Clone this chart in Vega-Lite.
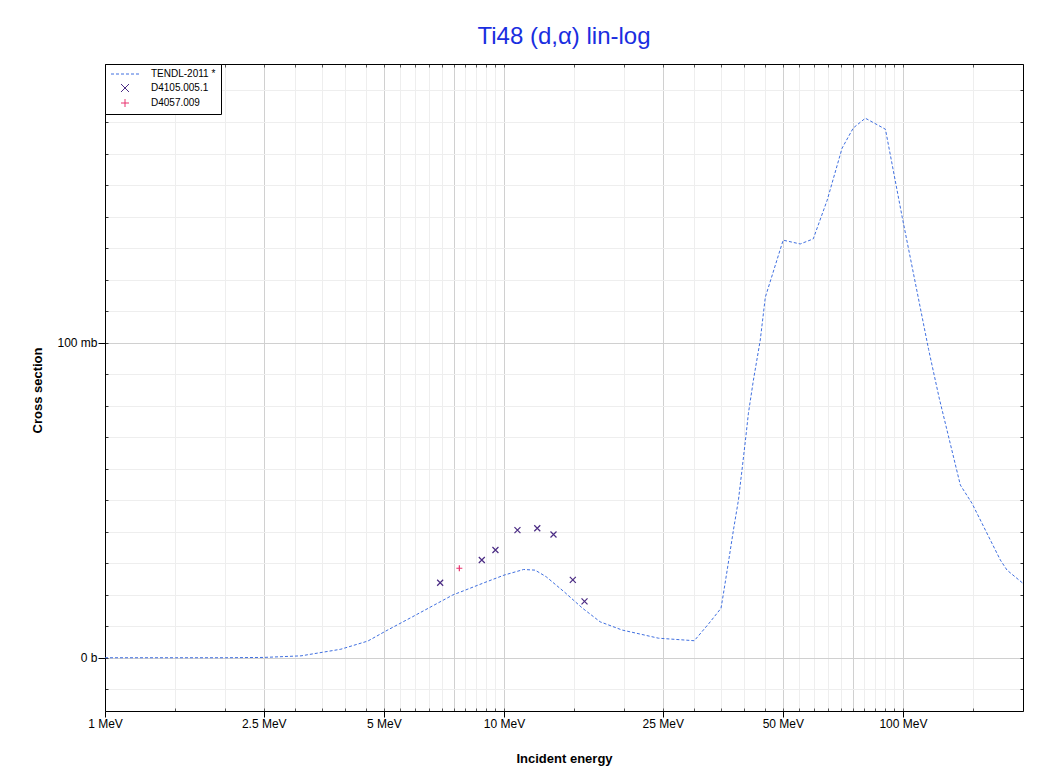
{
  "$schema": "https://vega.github.io/schema/vega-lite/v6.json",
  "width": 918,
  "height": 647,
  "autosize": {"type": "none"},
  "padding": {"left": 105, "top": 64, "right": 37, "bottom": 63},
  "background": "white",
  "title": {"text": "Ti48 (d,α) lin-log", "font": "Liberation Sans", "fontSize": 24, "fontWeight": "normal", "color": "#1a2ee0", "anchor": "middle", "offset": 0, "dy": 4, "baseline": "alphabetic"},
  "config": {"view": {"stroke": null}, "font": "Liberation Sans"},
  "datasets": {
    "tendl": [
      {"e": 1, "s": 0}, {"e": 1.5, "s": 0}, {"e": 2, "s": 0}, {"e": 2.5, "s": 0.1}, {"e": 3.1, "s": 0.6},
      {"e": 3.9, "s": 2.7}, {"e": 4.56, "s": 5.3}, {"e": 5.06, "s": 8.5}, {"e": 5.9, "s": 13.0}, {"e": 7.44, "s": 19.9},
      {"e": 8.92, "s": 23.8}, {"e": 10.0, "s": 26.2}, {"e": 11.2, "s": 28.0}, {"e": 11.97, "s": 27.8}, {"e": 12.76, "s": 25.7},
      {"e": 14.16, "s": 20.9}, {"e": 15.71, "s": 15.8}, {"e": 17.42, "s": 11.4}, {"e": 19.77, "s": 8.8}, {"e": 24.4, "s": 6.2},
      {"e": 30.0, "s": 5.4}, {"e": 32.7, "s": 11.0}, {"e": 35.0, "s": 15.7}, {"e": 35.5, "s": 20.4}, {"e": 36.5, "s": 30},
      {"e": 37.6, "s": 40.5}, {"e": 38.7, "s": 50}, {"e": 39.5, "s": 59.5}, {"e": 40.3, "s": 69}, {"e": 41.0, "s": 77.6},
      {"e": 42.2, "s": 88.1}, {"e": 43.9, "s": 100.8}, {"e": 45.2, "s": 114.4}, {"e": 50.1, "s": 132.5}, {"e": 55.3, "s": 131.3},
      {"e": 59.6, "s": 132.9}, {"e": 64.6, "s": 145.2}, {"e": 70.4, "s": 161.7}, {"e": 75.1, "s": 168.1}, {"e": 80.5, "s": 171.2},
      {"e": 90.4, "s": 167.7}, {"e": 99.6, "s": 139.8}, {"e": 116, "s": 97.8}, {"e": 123.3, "s": 82.4}, {"e": 139.3, "s": 54.8},
      {"e": 149, "s": 49}, {"e": 175.5, "s": 31}, {"e": 182.4, "s": 27.8}, {"e": 200, "s": 23.6}
    ],
    "exp": [
      {"e": 6.92, "s": 23.8, "series": "D4105.005.1"},
      {"e": 8.80, "s": 31.0, "series": "D4105.005.1"},
      {"e": 9.52, "s": 34.2, "series": "D4105.005.1"},
      {"e": 10.81, "s": 40.5, "series": "D4105.005.1"},
      {"e": 12.12, "s": 41.1, "series": "D4105.005.1"},
      {"e": 13.31, "s": 39.1, "series": "D4105.005.1"},
      {"e": 14.88, "s": 24.7, "series": "D4105.005.1"},
      {"e": 15.92, "s": 17.9, "series": "D4105.005.1"},
      {"e": 7.73, "s": 28.4, "series": "D4057.009"}
    ]
  },
  "resolve": {"axis": {"x": "independent", "y": "independent"}},
  "layer": [
    {
      "data": {"name": "tendl"},
      "mark": {"type": "line", "strokeOpacity": 0},
      "encoding": {
        "x": {"field": "e", "type": "quantitative", "scale": {"type": "log", "domain": [1, 200], "nice": false},
          "axis": {"orient": "bottom", "values": [1,1.5,2,2.5,3,3.5,4,4.5,5,5.5,6,6.5,7,7.5,8,8.5,9,9.5,10,15,20,25,30,35,40,45,50,55,60,65,70,75,80,85,90,95,100,150,200],
            "grid": true, "gridWidth": 1,
            "gridColor": {"condition": {"test": "indexof([1,2.5,5,7.5,10,25,50,75,100], datum.value) >= 0", "value": "#d0d0d0"}, "value": "#eeeeee"},
            "tickSize": -3, "tickColor": "#555555", "labels": false, "domain": false, "title": null}},
        "y": {"field": "s", "type": "quantitative", "scale": {"domain": [-16.9, 188.4], "nice": false, "zero": false},
          "axis": {"orient": "left", "values": [-10,0,10,20,30,40,50,60,70,80,90,100,110,120,130,140,150,160,170,180],
            "grid": true, "gridWidth": 1,
            "gridColor": {"condition": {"test": "datum.value == 0 || datum.value == 100", "value": "#d0d0d0"}, "value": "#eeeeee"},
            "tickSize": -3, "tickColor": "#333333", "labels": false, "domain": false, "title": null}}
      }
    },
    {
      "data": {"name": "tendl"},
      "mark": {"type": "line", "strokeOpacity": 0},
      "encoding": {
        "x": {"field": "e", "type": "quantitative",
          "axis": {"orient": "top", "values": [1,1.5,2,2.5,3,3.5,4,4.5,5,5.5,6,6.5,7,7.5,8,8.5,9,9.5,10,15,20,25,30,35,40,45,50,55,60,65,70,75,80,85,90,95,100,150,200],
            "grid": false, "tickSize": -3, "tickColor": "#555555", "labels": false, "domain": true, "domainColor": "#000000", "domainWidth": 1, "title": null}},
        "y": {"field": "s", "type": "quantitative",
          "axis": {"orient": "right", "values": [-10,0,10,20,30,40,50,60,70,80,90,100,110,120,130,140,150,160,170,180],
            "grid": false, "tickSize": -3, "tickColor": "#333333", "labels": false, "domain": true, "domainColor": "#000000", "domainWidth": 1, "title": null}}
      }
    },
    {
      "data": {"name": "tendl"},
      "mark": {"type": "line", "color": "#3f6fe0", "strokeWidth": 1, "strokeDash": [3, 2]},
      "encoding": {
        "x": {"field": "e", "type": "quantitative",
          "axis": {"orient": "bottom", "values": [1, 2.5, 5, 10, 25, 50, 100], "labelExpr": "datum.value + ' MeV'",
            "grid": false, "tickSize": 6, "tickColor": "#000000", "domain": true, "domainColor": "#000000", "domainWidth": 1,
            "labelFont": "Liberation Sans", "labelFontSize": 12, "labelColor": "#000000", "labelPadding": 1, "labelFlush": false, "labelOverlap": false,
            "title": "Incident energy", "titleFont": "Liberation Sans", "titleFontSize": 13, "titleFontWeight": "bold", "titleColor": "#000000",
            "titleY": 47, "titleBaseline": "middle"}},
        "y": {"field": "s", "type": "quantitative",
          "axis": {"orient": "left", "values": [0, 100], "labelExpr": "datum.value == 0 ? '0 b' : '100 mb'",
            "grid": false, "tickSize": 7, "tickColor": "#000000", "domain": true, "domainColor": "#000000", "domainWidth": 1,
            "labelFont": "Liberation Sans", "labelFontSize": 12, "labelColor": "#000000", "labelPadding": 1, "labelFlush": false,
            "title": "Cross section", "titleFont": "Liberation Sans", "titleFontSize": 13, "titleFontWeight": "bold", "titleColor": "#000000",
            "titleX": -68, "titleY": 326, "titleAngle": -90, "titleBaseline": "middle", "titleAlign": "center"}}
      }
    },
    {
      "data": {"name": "exp"},
      "mark": {"type": "point", "filled": false, "strokeWidth": 1.2, "size": 36, "opacity": 1},
      "encoding": {
        "x": {"field": "e", "type": "quantitative", "axis": null},
        "y": {"field": "s", "type": "quantitative", "axis": null},
        "color": {"field": "series", "type": "nominal",
          "scale": {"domain": ["TENDL-2011 *", "D4105.005.1", "D4057.009"], "range": ["#3f6fe0", "#4b2c84", "#e8336e"]},
          "legend": {"title": null, "orient": "none", "legendX": 0, "legendY": 0, "fillColor": "#ffffff", "strokeColor": "#000000",
            "padding": 5, "rowPadding": 3, "labelFont": "Liberation Sans", "labelFontSize": 10, "labelColor": "#000000",
            "symbolSize": 64, "symbolStrokeWidth": 1, "symbolOffset": 10, "labelOffset": 21, "cornerRadius": 0}},
        "shape": {"field": "series", "type": "nominal",
          "scale": {"domain": ["TENDL-2011 *", "D4105.005.1", "D4057.009"],
            "range": ["M-3.5,0H-2.75M-2.25,0H-1.5M-1,0H-0.25M0.25,0H1M1.5,0H2.25M2.75,0H3.5", "M-1,-1L1,1M-1,1L1,-1", "M-1,0H1M0,-1V1"]},
          "legend": {"title": null, "orient": "none", "legendX": 0, "legendY": 0, "fillColor": "#ffffff", "strokeColor": "#000000",
            "padding": 5, "rowPadding": 3, "labelFont": "Liberation Sans", "labelFontSize": 10, "labelColor": "#000000",
            "symbolSize": 64, "symbolStrokeWidth": 1, "symbolOffset": 10, "labelOffset": 21, "cornerRadius": 0}}
      }
    }
  ]
}
